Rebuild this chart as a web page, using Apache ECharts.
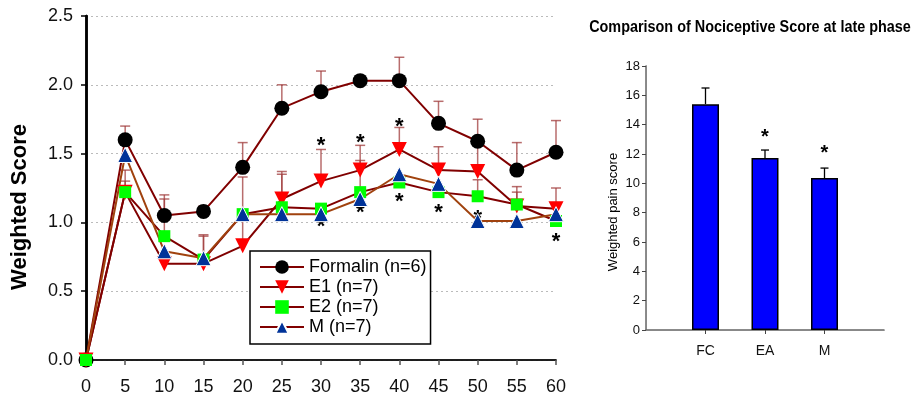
<!DOCTYPE html>
<html>
<head>
<meta charset="utf-8">
<script src="https://cdn.jsdelivr.net/npm/echarts@6/dist/echarts.min.js"></script>
<style>html,body{margin:0;padding:0;background:#fff}#c{width:916px;height:396px}</style>
</head>
<body>
<div id="c"></div>
<script>
// ---- Left chart data ----
const minutes = [0, 5, 10, 15, 20, 25, 30, 35, 40, 45, 50, 55, 60];
const formalin = [0, 1.60, 1.05, 1.08, 1.40, 1.83, 1.95, 2.03, 2.03, 1.72, 1.59, 1.38, 1.51];
const formalinErr = [0, 0.10, 0.15, 0.04, 0.18, 0.17, 0.15, 0, 0.17, 0.16, 0.16, 0.20, 0.23];
const e1 = [0, 1.22, 0.70, 0.70, 0.83, 1.17, 1.30, 1.38, 1.53, 1.38, 1.37, 1.12, 1.10];
const e1Err = [0, 0.08, 0, 0.20, 0.50, 0.20, 0.23, 0.18, 0.16, 0.17, 0.20, 0.14, 0.15];
const e2 = [0, 1.22, 0.90, 0.73, 1.06, 1.11, 1.10, 1.22, 1.29, 1.22, 1.19, 1.13, 1.01];
const e2Err = [0, 0.16, 0.27, 0.18, 0, 0.24, 0, 0.23, 0, 0, 0.12, 0.09, 0];
const mGroup = [0, 1.49, 0.79, 0.74, 1.06, 1.06, 1.06, 1.17, 1.35, 1.28, 1.01, 1.01, 1.06];
const mErr = [0, 0, 0, 0, 0, 0, 0, 0, 0, 0, 0, 0, 0];
const seriesNames = ['Formalin (n=6)', 'E1 (n=7)', 'E2 (n=7)', 'M (n=7)'];
const leftStars = [[30, 1.60], [35, 1.62], [40, 1.74], [40, 1.19], [45, 1.11], [50, 1.07], [60, 0.90], [35, 1.11], [30, 1.01]];

// ---- Right chart data ----
const groups = ['FC', 'EA', 'M'];
const groupPos = [1, 2, 3];
const painScore = [15.4, 11.72, 10.36];
const painErr = [1.1, 0.55, 0.68];
const rightStars = [[2, 13.5], [3, 12.45]];

const chart = echarts.init(document.getElementById('c'), null, {renderer: 'canvas'});
const FONT = 'Arial, "Liberation Sans", sans-serif';

function errSeries(xi, yi, ys, errs, color, capHalf, lw) {
  return {
    type: 'custom', xAxisIndex: xi, yAxisIndex: yi, z: 1, silent: true,
    data: ys.map((v, i) => [xi === 0 ? minutes[i] : groupPos[i], v, errs[i]]),
    encode: {x: 0, y: 1},
    renderItem: function (params, api) {
      const x = api.value(0), y = api.value(1), e = api.value(2);
      if (!e) return;
      const p0 = api.coord([x, y]), p1 = api.coord([x, y + e]);
      return {type: 'group', children: [
        {type: 'line', shape: {x1: p0[0], y1: p0[1], x2: p1[0], y2: p1[1]}, style: {stroke: color, lineWidth: lw}},
        {type: 'line', shape: {x1: p1[0] - capHalf, y1: p1[1], x2: p1[0] + capHalf, y2: p1[1]}, style: {stroke: color, lineWidth: lw}}
      ]};
    }
  };
}
const errColor = 'rgba(160,60,60,0.75)';
function lineSeries(name, ys, symbol, size, color, lineColor, rotate, border, hideFirst) {
  return {
    name: name, type: 'line', xAxisIndex: 0, yAxisIndex: 0, z: 3,
    data: ys.map((v, i) => (hideFirst && i === 0) ? {value: [minutes[i], v], symbol: 'none'} : [minutes[i], v]),
    symbol: symbol, symbolSize: size, symbolRotate: rotate || 0, showAllSymbol: true,
    lineStyle: {color: lineColor, width: 2},
    itemStyle: {color: color, borderColor: border || color, borderWidth: border ? 1 : 0},
    emphasis: {disabled: true}, animation: false
  };
}
function starSeries(xi, yi, pts, size) {
  return {
    type: 'custom', xAxisIndex: xi, yAxisIndex: yi, z: 2, silent: true,
    data: pts, encode: {x: 0, y: 1},
    renderItem: function (params, api) {
      const p = api.coord([api.value(0), api.value(1)]);
      return {type: 'text', x: p[0], y: p[1] + size * 0.28,
        style: {text: '*', textAlign: 'center', textVerticalAlign: 'middle',
          font: 'bold ' + size + 'px ' + FONT, fill: '#000'}};
    }
  };
}

const option = {
  animation: false,
  backgroundColor: '#fff',
  graphic: [
    {type: 'text', x: 750, y: 28, scaleX: 0.9, scaleY: 1,
      style: {text: 'Comparison of Nociceptive Score at late phase', textAlign: 'center', textVerticalAlign: 'middle',
        font: 'bold 16px ' + FONT, fill: '#000'}},
    {type: 'text', x: 20, y: 207, rotation: Math.PI / 2,
      style: {text: 'Weighted Score', textAlign: 'center', textVerticalAlign: 'middle',
        font: 'bold 22px ' + FONT, fill: '#000'}},
    {type: 'text', x: 613, y: 212, rotation: Math.PI / 2,
      style: {text: 'Weighted pain score', textAlign: 'center', textVerticalAlign: 'middle',
        font: '13px ' + FONT, fill: '#000'}}
  ],
  legend: {
    orient: 'vertical', left: 250, top: 251,
    data: seriesNames.map(n => ({name: n, lineStyle: {color: '#800000'}})),
    itemWidth: 44, itemHeight: 17, itemGap: 2,
    padding: [7, 4, 8, 9],
    borderColor: '#000', borderWidth: 1.5, backgroundColor: '#fff',
    textStyle: {fontSize: 18, color: '#000', fontFamily: FONT},
    selectedMode: false
  },
  grid: [
    {left: 86, top: 16, width: 470, height: 345},
    {left: 646, top: 66, width: 238, height: 264}
  ],
  xAxis: [
    {type: 'value', gridIndex: 0, min: 0, max: 60, interval: 5,
      axisLine: {lineStyle: {color: '#555', width: 1.5}},
      axisTick: {show: true, length: 5, lineStyle: {color: '#555', width: 1.5}},
      axisLabel: {fontSize: 18, color: '#111', fontFamily: FONT, margin: 18},
      splitLine: {show: false}},
    {type: 'value', gridIndex: 0, position: 'top', min: 0, max: 60,
      axisLine: {show: true, lineStyle: {color: '#000', width: 1.5}},
      axisTick: {show: false}, axisLabel: {show: false}, splitLine: {show: false}},
    {type: 'value', gridIndex: 1, min: 0, max: 4, interval: 1,
      axisLine: {lineStyle: {color: '#666', width: 1.5}},
      axisTick: {show: true, length: 4, customValues: groupPos, lineStyle: {color: '#444'}},
      axisLabel: {fontSize: 14, color: '#111', fontFamily: FONT, margin: 14,
        customValues: groupPos, formatter: v => groups[groupPos.indexOf(v)] || ''},
      splitLine: {show: false}},
    {type: 'value', gridIndex: 1, position: 'top', min: 0, max: 4,
      axisLine: {show: true, lineStyle: {color: '#888', width: 1}},
      axisTick: {show: false}, axisLabel: {show: false}, splitLine: {show: false}}
  ],
  yAxis: [
    {type: 'value', gridIndex: 0, min: 0, max: 2.5, interval: 0.5,
      axisLine: {show: true, lineStyle: {color: '#000', width: 2.5}},
      axisTick: {show: true, length: 5, lineStyle: {color: '#000', width: 1.5}},
      axisLabel: {fontSize: 18, color: '#111', fontFamily: FONT, margin: 13,
        formatter: v => v.toFixed(1)},
      splitLine: {show: true, lineStyle: {color: '#bbb', type: [2, 3], width: 1}}},
    {type: 'value', gridIndex: 0, position: 'right', min: 0, max: 2.5,
      axisLine: {show: true, lineStyle: {color: '#000', width: 2.5}},
      axisTick: {show: false}, axisLabel: {show: false}, splitLine: {show: false}},
    {type: 'value', gridIndex: 1, min: 0, max: 18, interval: 2,
      axisLine: {show: true, lineStyle: {color: '#666', width: 1.5}},
      axisTick: {show: true, length: 4, lineStyle: {color: '#444'}},
      axisLabel: {fontSize: 13, color: '#111', fontFamily: FONT, margin: 6},
      splitLine: {show: false}},
    {type: 'value', gridIndex: 1, position: 'right', min: 0, max: 18,
      axisLine: {show: true, lineStyle: {color: '#888', width: 1}},
      axisTick: {show: false}, axisLabel: {show: false}, splitLine: {show: false}}
  ],
  series: [
    starSeries(0, 0, leftStars, 22),
    errSeries(0, 0, formalin, formalinErr, errColor, 5, 1.5),
    errSeries(0, 0, e1, e1Err, errColor, 5, 1.5),
    errSeries(0, 0, e2, e2Err, errColor, 5, 1.5),
    errSeries(0, 0, mGroup, mErr, errColor, 5, 1.5),
    lineSeries(seriesNames[0], formalin, 'circle', 15, '#000', '#800000'),
    lineSeries(seriesNames[1], e1, 'triangle', 15, '#ff0000', '#800000', 180),
    lineSeries(seriesNames[2], e2, 'rect', 12, '#00ff00', '#800000'),
    lineSeries(seriesNames[3], mGroup, 'triangle', 15, '#003399', '#a0420e', 0, '#ffffff', true),
    errSeries(2, 2, painScore, painErr, '#000', 4, 1.3),
    {type: 'bar', xAxisIndex: 2, yAxisIndex: 2, z: 2, barWidth: 27,
      data: painScore.map((v, i) => [groupPos[i], v]),
      itemStyle: {color: '#0000ff', borderColor: '#000', borderWidth: 1.5}},
    starSeries(2, 2, rightStars, 20)
  ]
};
chart.setOption(option);
</script>
</body>
</html>
